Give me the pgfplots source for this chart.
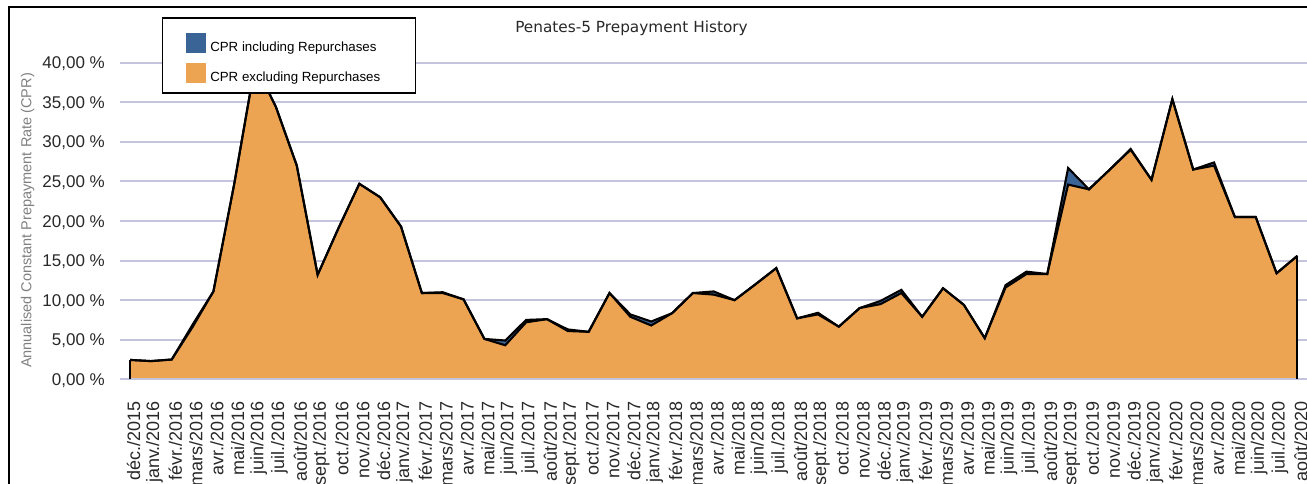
\documentclass[border=0pt]{standalone}
\usepackage{pgfplots}
\usepackage{pgfplotstable}
\pgfplotsset{compat=1.18}
\usepackage{fontspec}
\setmainfont{Liberation Sans}
\newfontfamily\titlefont{DejaVu Sans}
\definecolor{cprblue}{RGB}{58,99,150}
\definecolor{cprorange}{RGB}{237,164,82}
\definecolor{gridc}{RGB}{196,196,220}
\definecolor{labc}{RGB}{40,40,40}
\definecolor{ylabc}{RGB}{128,128,128}

\pgfplotstableread{
idx incl excl
0 2.45 2.45
1 2.3 2.3
2 2.5 2.5
3 6.9 6.6
4 11.1 11.1
5 24.7 24.7
6 39.8 39.8
7 34.4 34.4
8 27.0 27.0
9 13.2 13.2
10 19.1 19.1
11 24.7 24.7
12 23.0 23.0
13 19.3 19.3
14 10.9 10.9
15 11.0 10.9
16 10.1 10.1
17 5.1 5.1
18 4.9 4.3
19 7.5 7.2
20 7.6 7.6
21 6.3 6.1
22 6.0 6.0
23 10.9 10.9
24 8.2 7.9
25 7.3 6.8
26 8.35 8.35
27 10.9 10.9
28 11.1 10.7
29 10.0 10.0
30 12.0 12.0
31 14.05 14.05
32 7.7 7.7
33 8.4 8.2
34 6.65 6.65
35 9.0 9.0
36 9.9 9.5
37 11.3 10.9
38 7.9 7.9
39 11.5 11.5
40 9.4 9.4
41 5.2 5.2
42 11.9 11.6
43 13.6 13.3
44 13.3 13.3
45 26.7 24.6
46 24.0 24.0
47 26.5 26.5
48 29.1 29.0
49 25.2 25.2
50 35.4 35.4
51 26.5 26.5
52 27.4 27.0
53 20.5 20.5
54 20.5 20.5
55 13.4 13.4
56 15.6 15.6
}\data

\begin{document}
\begin{tikzpicture}
\begin{axis}[
  at={(119.6pt,104.7pt)}, anchor=south west,
  scale only axis, width=1188.3pt, height=316.6pt,
  xmin=-0.5, xmax=56.5, ymin=0, ymax=40,
  axis line style={draw=none},
  tick style={draw=none},
  ymajorgrids, major grid style={gridc, line width=2pt},
  ytick={0,5,...,40},
  yticklabels={{0,00 \%},{5,00 \%},{10,00 \%},{15,00 \%},{20,00 \%},{25,00 \%},{30,00 \%},{35,00 \%},{40,00 \%}},
  yticklabel style={anchor=base east, inner sep=0pt, xshift=-14.6pt, yshift=-6.1pt, font=\fontsize{17}{19}\selectfont, text=labc},
  xtick={0,...,56},
  xticklabels={déc./2015,janv./2016,févr./2016,mars/2016,avr./2016,mai/2016,juin/2016,juil./2016,août/2016,sept./2016,oct./2016,nov./2016,déc./2016,
    janv./2017,févr./2017,mars/2017,avr./2017,mai/2017,juin/2017,juil./2017,août/2017,sept./2017,oct./2017,nov./2017,déc./2017,
    janv./2018,févr./2018,mars/2018,avr./2018,mai/2018,juin/2018,juil./2018,août/2018,sept./2018,oct./2018,nov./2018,déc./2018,
    janv./2019,févr./2019,mars/2019,avr./2019,mai/2019,juin/2019,juil./2019,août/2019,sept./2019,oct./2019,nov./2019,déc./2019,
    janv./2020,févr./2020,mars/2020,avr./2020,mai/2020,juin/2020,juil./2020,août/2020},
  xticklabel style={yshift=-21.5pt, xshift=3.5pt, rotate=90, anchor=east, inner sep=0pt, font=\fontsize{18}{20}\selectfont, text=labc},
  title={\titlefont Penates-5 Prepayment History},
  title style={at={(axis description cs:0.4308,1.078)}, anchor=base, yshift=0pt, font=\fontsize{15.3}{18}\selectfont, text=labc},
  ylabel={Annualised Constant Prepayment Rate (CPR)},
  ylabel style={at={(axis description cs:-0.0775,0.5016)}, anchor=center, font=\fontsize{14.5}{16}\selectfont, text=ylabc},
  legend style={at={(axis description cs:0.03543,1.1434)}, anchor=north west, draw=black, line width=1.3pt, fill=white,
    inner xsep=0pt, inner ysep=7.9pt, row sep=0pt, column sep=0pt,
    font=\fontsize{13.3}{15}\selectfont, nodes={inner sep=0pt}},
  legend cell align=left,
  legend image code/.code={\fill[#1] (0pt,-5.5pt) rectangle (20pt,14.5pt); \path[draw=none, fill=none] (-23.3pt,-7.6pt) rectangle (24.6pt,22pt);},
]
\addplot[fill=cprblue, draw=none] table[x=idx, y=incl] {\data} \closedcycle;
\addlegendentry{CPR including Repurchases\hspace*{35pt}}
\addplot[fill=cprorange, draw=none] table[x=idx, y=excl] {\data} \closedcycle;
\addlegendentry{CPR excluding Repurchases\hspace*{35pt}}
\addplot[gridc, line width=2pt, forget plot] coordinates {(-0.5,0) (56.5,0)};
\addplot[black, line width=2.1pt, forget plot] table[x=idx, y=incl] {\data};
\addplot[black, line width=2.1pt, forget plot] table[x=idx, y=excl] {\data};
\addplot[black, line width=2.1pt, forget plot] coordinates {(0,0) (0,2.45)};
\addplot[black, line width=2.1pt, forget plot] coordinates {(56,0) (56,15.6)};
\end{axis}
\draw[line width=2pt] (9.3pt,-10pt) -- (9.3pt,477.3pt) -- (1330pt,477.3pt);
\pgfresetboundingbox
\path[use as bounding box] (0pt,0pt) rectangle (1307pt,484pt);
\end{tikzpicture}
\end{document}
